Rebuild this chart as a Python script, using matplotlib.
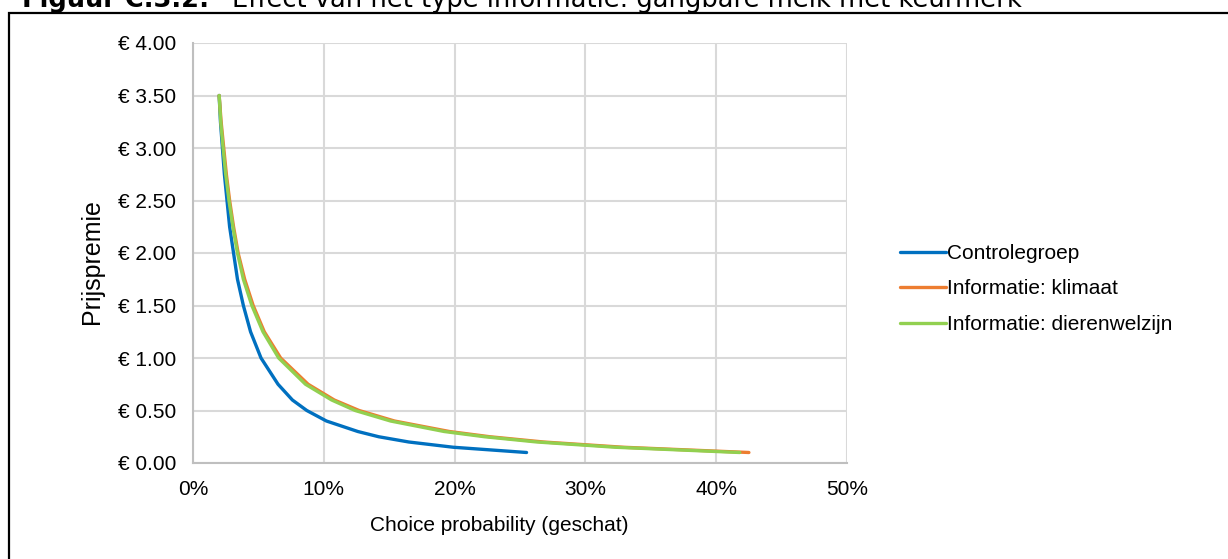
import matplotlib.pyplot as plt
from matplotlib.patches import Rectangle
from matplotlib.ticker import FuncFormatter, MultipleLocator

# price premium (euro) and estimated choice probability (%) per group
prijs = [3.5, 3.25, 3.0, 2.75, 2.5, 2.25, 2.0, 1.75, 1.5, 1.25, 1.0, 0.75, 0.6, 0.5,
         0.4, 0.3, 0.25, 0.2, 0.15, 0.1]
controle = [2.0, 2.1, 2.25, 2.4, 2.6, 2.8, 3.1, 3.4, 3.85, 4.4, 5.2, 6.5, 7.6, 8.7,
            10.2, 12.6, 14.2, 16.5, 19.9, 25.5]
klimaat = [2.0, 2.15, 2.35, 2.55, 2.8, 3.1, 3.45, 3.95, 4.6, 5.45, 6.7, 8.8, 10.8, 12.7,
           15.4, 19.6, 22.7, 26.8, 32.9, 42.5]
dierenwelzijn = [2.0, 2.12, 2.3, 2.5, 2.75, 3.05, 3.4, 3.85, 4.5, 5.35, 6.55, 8.6, 10.6, 12.4,
                 15.1, 19.2, 22.3, 26.3, 32.3, 41.8]

labels = ["Controlegroep", "Informatie: klimaat", "Informatie: dierenwelzijn"]
colors = ["#0070C0", "#ED7D31", "#92D050"]

plt.rcParams['font.family'] = ['Liberation Sans', 'DejaVu Sans']

fig = plt.figure(figsize=(12.28, 5.59), dpi=100)
ax = fig.add_axes([193/1228, 1 - 463/559, (847-193)/1228, (463-43)/559])

for series, lab, col in zip([controle, klimaat, dierenwelzijn], labels, colors):
    ax.plot(series, prijs, color=col, lw=2.4, label=lab, solid_capstyle='round',
            solid_joinstyle='round', zorder=3)

ax.set_xlim(0, 50)
ax.set_ylim(0, 4)
ax.xaxis.set_major_locator(MultipleLocator(10))
ax.yaxis.set_major_locator(MultipleLocator(0.5))
ax.xaxis.set_major_formatter(FuncFormatter(lambda v, p: f"{v:.0f}%"))
ax.yaxis.set_major_formatter(FuncFormatter(lambda v, p: f"\u20ac {v:.2f}"))
ax.grid(True, color="#d9d9d9", lw=1.5, zorder=0)
ax.tick_params(length=0, labelsize=15, colors="#000000")
ax.tick_params(axis="y", pad=12)
ax.tick_params(axis="x", pad=12)
for s in ["top", "right"]:
    ax.spines[s].set_visible(False)
for s in ["left", "bottom"]:
    ax.spines[s].set_color("#bfbfbf")
    ax.spines[s].set_linewidth(1.5)

ax.set_xlabel("Choice probability (geschat)", fontsize=15)
ax.set_ylabel("Prijspremie", fontsize=18)
ax.xaxis.set_label_coords(0.469, -0.126)
ax.yaxis.set_label_coords(-0.136, 0.479)

fig.legend(loc="center left", bbox_to_anchor=(881/1228, 1 - 289/559), frameon=False,
           fontsize=15, handlelength=2.2, handletextpad=0.05, labelspacing=0.8)

# frame and (cut off) caption of the report figure
fig.patches.append(Rectangle((9/1228, -0.1), 1.2, 1.1 - 13/559, transform=fig.transFigure,
                             fill=False, ec="black", lw=1.6))
fig.text(22/1228, 1 - 7/559, "Figuur C.3.2:", family="DejaVu Sans", fontsize=18.5,
         fontweight="bold", va="baseline")
fig.text(232/1228, 1 - 7/559, "Effect van het type informatie: gangbare melk met keurmerk",
         family="DejaVu Sans", fontsize=18.5, va="baseline")

fig.savefig("out.png", dpi=100)
